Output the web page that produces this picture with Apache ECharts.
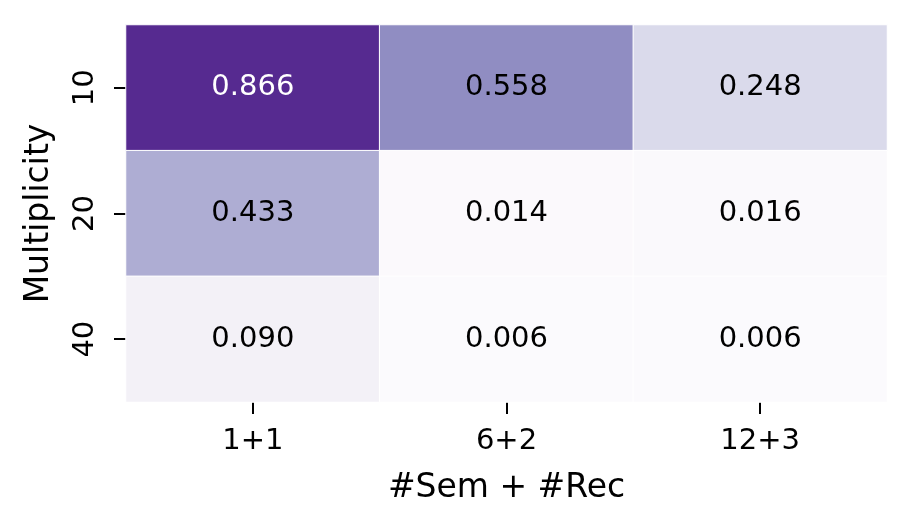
<!DOCTYPE html>
<html>
<head>
<meta charset="utf-8">
<script src="https://cdn.jsdelivr.net/npm/echarts@6/dist/echarts.min.js"></script>
<style>html,body{margin:0;padding:0;background:#fff}#c{width:913px;height:529px}</style>
</head>
<body>
<div id="c"></div>
<script>
const xCategories = ['1+1', '6+2', '12+3'];
const yCategories = ['10', '20', '40'];
const row10 = [0.866, 0.558, 0.248];
const row20 = [0.433, 0.014, 0.016];
const row40 = [0.090, 0.006, 0.006];
const rows = [row10, row20, row40];
const purples = ['#fcfbfd','#efedf5','#dadaeb','#bcbddc','#9e9ac8','#807dba','#6a51a3','#54278f','#3f007d'];

const data = [];
rows.forEach((r, yi) => r.forEach((v, xi) => {
  data.push({value: [xi, yi, v], label: {color: v > 0.7 ? '#ffffff' : '#000000'}});
}));

const font = 'DejaVu Sans';
const chart = echarts.init(document.getElementById('c'));
chart.setOption({
  animation: false,
  backgroundColor: '#ffffff',
  grid: {left: 126, top: 25, right: 26, bottom: 127},
  xAxis: {
    type: 'category', data: xCategories,
    name: '#Sem + #Rec', nameLocation: 'middle', nameGap: 70,
    nameTextStyle: {fontFamily: font, fontSize: 33, color: '#000'},
    axisLine: {show: false},
    axisTick: {show: true, alignWithLabel: true, length: 12, lineStyle: {color: '#000', width: 2}},
    axisLabel: {fontFamily: font, fontSize: 29, color: '#000', margin: 25},
    splitLine: {show: false}
  },
  yAxis: {
    type: 'category', data: yCategories, inverse: true,
    name: 'Multiplicity', nameLocation: 'middle', nameGap: 70, nameRotate: 90,
    nameTextStyle: {fontFamily: font, fontSize: 33, color: '#000'},
    axisLine: {show: false},
    axisTick: {show: true, alignWithLabel: true, length: 12, lineStyle: {color: '#000', width: 2}},
    axisLabel: {fontFamily: font, fontSize: 29, color: '#000', rotate: 90, margin: 26},
    splitLine: {show: false}
  },
  visualMap: {show: false, min: 0, max: 1, dimension: 2, inRange: {color: purples}},
  series: [{
    type: 'heatmap',
    data: data,
    itemStyle: {borderColor: '#ffffff', borderWidth: 1},
    label: {show: true, fontFamily: font, fontSize: 29,
      formatter: p => p.value[2].toFixed(3)},
    emphasis: {disabled: true}
  }]
});
</script>
</body>
</html>
